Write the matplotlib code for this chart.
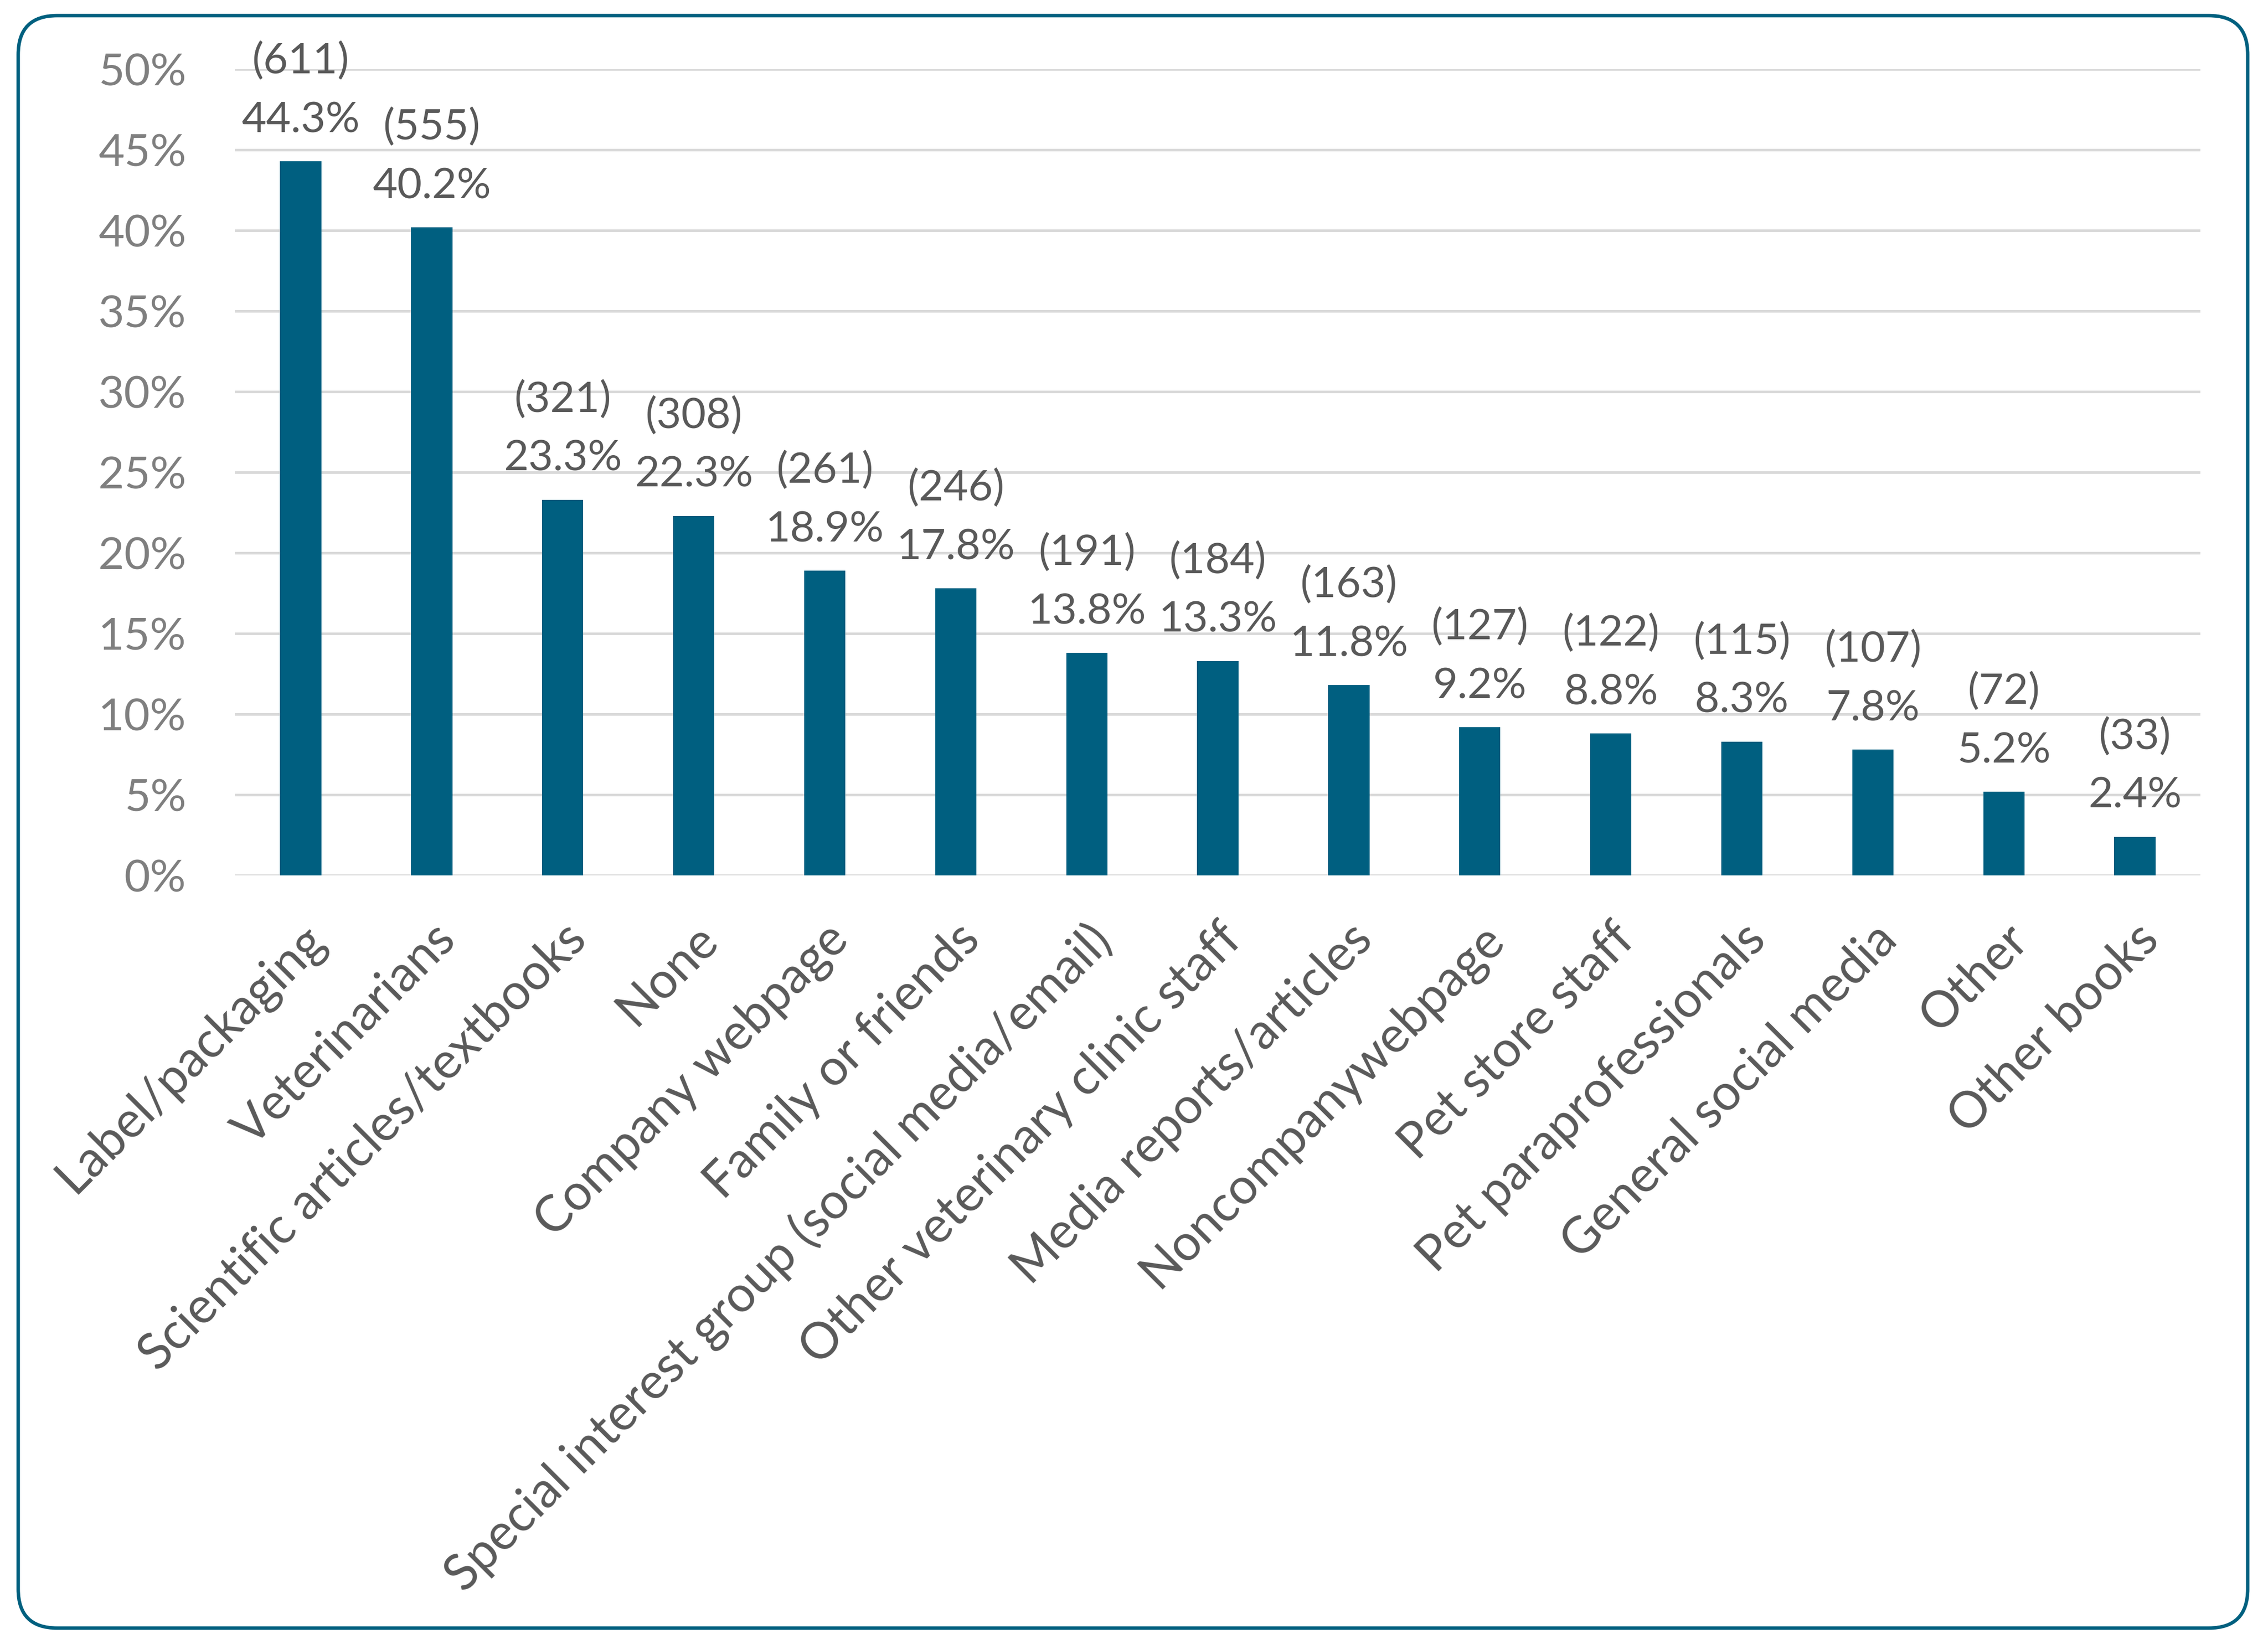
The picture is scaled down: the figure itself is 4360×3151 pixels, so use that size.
import matplotlib
matplotlib.use("Agg")
from matplotlib import pyplot as plt
from matplotlib.patches import FancyBboxPatch
from matplotlib.transforms import IdentityTransform
from matplotlib.ticker import MultipleLocator, FuncFormatter

categories = ["Label/packaging", "Veterinarians", "Scientific articles/textbooks", "None",
              "Company webpage", "Family or friends",
              "Special interest group (social media/email)", "Other veterinary clinic staff",
              "Media reports/articles", "Noncompanywebpage", "Pet store staff",
              "Pet paraprofessionals", "General social media", "Other", "Other books"]
percents = [44.3, 40.2, 23.3, 22.3, 18.9, 17.8, 13.8, 13.3, 11.8, 9.2, 8.8, 8.3, 7.8, 5.2, 2.4]
counts = [611, 555, 321, 308, 261, 246, 191, 184, 163, 127, 122, 115, 107, 72, 33]

plt.rcParams['font.family'] = ['Lato', 'DejaVu Sans']

bar_color = "#005f80"
fig = plt.figure(figsize=(21.8, 15.755), dpi=200)
ax = fig.add_axes([0.1037, 0.4659, 0.9702 - 0.1037, 0.9578 - 0.4659])

x = list(range(len(categories)))
ax.bar(x, percents, width=0.315, color=bar_color, zorder=3)

# two-line labels: count in brackets, then percent
for xi, p, c in zip(x, percents, counts):
    ax.annotate("({})\n{:.1f}%".format(c, p), xy=(xi, p), xytext=(0, 15),
                textcoords="offset points", ha="center", va="bottom",
                fontsize=29.5, color="#595959", linespacing=1.65)

ax.set_xlim(-0.5, len(categories) - 0.5)
ax.set_ylim(0, 50)
ax.yaxis.set_major_locator(MultipleLocator(5))
ax.yaxis.set_major_formatter(FuncFormatter(lambda v, pos: "{:d}%".format(int(round(v)))))
ax.grid(axis="y", color="#d9d9d9", linewidth=1.8, zorder=0)
ax.set_axisbelow(True)
for s in ax.spines.values():
    s.set_visible(False)
ax.tick_params(axis="y", length=0, pad=34, labelsize=31, labelcolor="#7f7f7f")
ax.tick_params(axis="x", length=0, pad=28)
ax.set_xticks(x)
ax.set_xticklabels(categories, rotation=45, ha="right", va="top", rotation_mode="anchor",
                   fontsize=34.5, color="#595959")

# rounded outer frame (pixel coordinates)
frame = FancyBboxPatch((35, 21), 4321 - 35, 3121 - 21,
                       boxstyle="round,pad=0,rounding_size=75",
                       transform=IdentityTransform(), facecolor="none",
                       edgecolor="#00607f", linewidth=2.4)
fig.patches.append(frame)

fig.savefig("out.png", dpi=200)
